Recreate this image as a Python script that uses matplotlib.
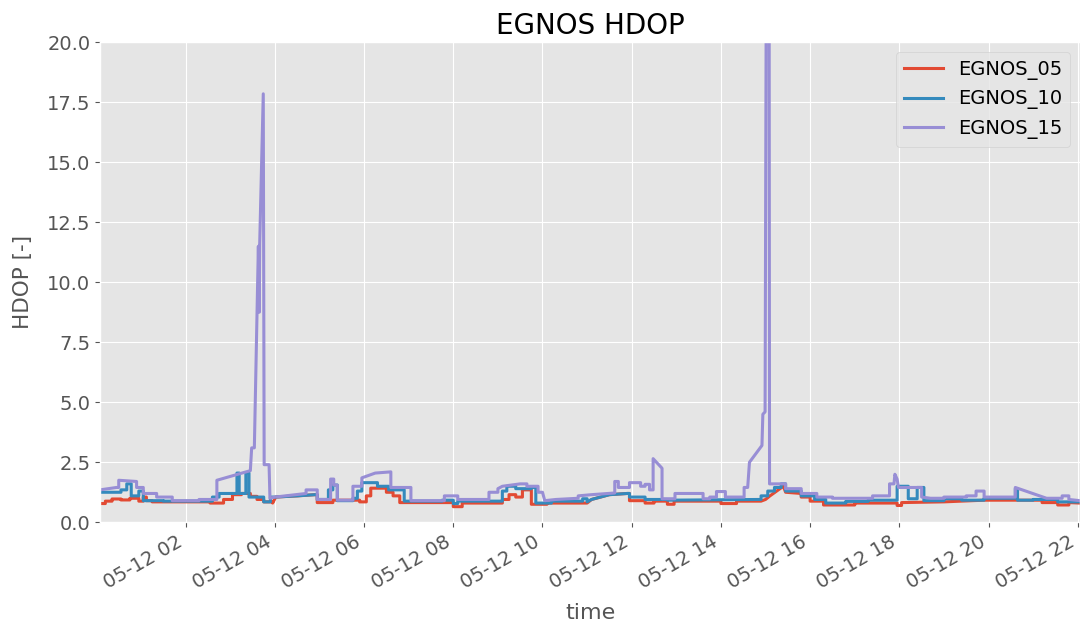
import numpy as np
import pandas as pd
import matplotlib
matplotlib.use("Agg")
import matplotlib.pyplot as plt
import matplotlib.dates as mdates
from matplotlib.ticker import MultipleLocator

plt.style.use("ggplot")

# hours after 05-12 00:00 and HDOP values (step changes given as repeated times)
t05 = [0.08, 0.20, 0.20, 0.35, 0.35, 0.55, 0.55, 0.75, 0.75, 0.95, 0.95, 1.05, 1.05, 1.12, 1.12,
       1.25, 1.25, 2.55, 2.55, 2.85, 2.85, 3.05, 3.05, 3.25, 3.25, 3.45, 3.45, 3.60, 3.60, 3.75,
       3.75, 3.95, 3.95, 4.02, 4.5, 4.9, 4.95, 4.95, 5.30, 5.30, 5.90, 5.90, 6.05, 6.05, 6.15,
       6.15, 6.50, 6.50, 6.65, 6.65, 6.80, 6.80, 8.00, 8.00, 8.20, 8.20, 9.10, 9.10, 9.25, 9.25,
       9.40, 9.40, 9.55, 9.55, 9.75, 9.75, 10.10, 10.10, 11.0, 11.1, 11.5, 11.9, 11.95, 11.95,
       12.30, 12.30, 12.50, 12.50, 12.80, 12.80, 12.95, 12.95, 14.00, 14.00, 14.35, 14.35, 14.9,
       15.0, 15.1, 15.25, 15.4, 15.45, 15.8, 15.8, 16.0, 16.0, 16.3, 16.3, 17.0, 17.0, 17.95,
       17.95, 18.05, 18.05, 19.0, 19.9, 21.2, 21.2, 21.55, 21.55, 21.8, 21.8, 22.05]
v05 = [0.78, 0.78, 0.88, 0.88, 0.97, 0.97, 0.93, 0.93, 1.00, 1.00, 0.88, 0.88, 1.05, 1.05, 0.90,
       0.90, 0.85, 0.85, 0.80, 0.80, 0.95, 0.95, 1.15, 1.15, 1.20, 1.20, 1.08, 1.08, 0.95, 0.95,
       0.85, 0.85, 0.80, 1.05, 1.10, 1.15, 1.15, 0.82, 0.82, 0.92, 0.92, 0.85, 0.85, 1.10, 1.10,
       1.42, 1.42, 1.25, 1.25, 1.10, 1.10, 0.82, 0.82, 0.65, 0.65, 0.80, 0.80, 0.95, 0.95, 1.15,
       1.15, 1.05, 1.05, 1.35, 1.35, 0.75, 0.75, 0.80, 0.80, 0.95, 1.15, 1.20, 1.20, 0.90,
       0.90, 0.80, 0.80, 0.88, 0.88, 0.75, 0.75, 0.88, 0.88, 0.78, 0.78, 0.88, 0.88,
       0.95, 1.10, 1.30, 1.50, 1.25, 1.20, 1.05, 1.05, 0.88, 0.88, 0.72, 0.72, 0.80, 0.80,
       0.70, 0.70, 0.82, 0.85, 0.92, 0.92, 0.82, 0.82, 0.72, 0.72, 0.82, 0.80]

t10 = [0.08, 0.55, 0.55, 0.68, 0.68, 0.78, 0.78, 0.95, 0.95, 1.05, 1.05, 1.50, 1.50, 2.60, 2.60,
       2.75, 2.75, 3.15, 3.15, 3.20, 3.20, 3.35, 3.35, 3.42, 3.42, 3.75, 3.75, 3.90, 3.90, 4.0,
       4.5, 4.9, 4.95, 4.95, 5.20, 5.20, 5.30, 5.30, 5.40, 5.40, 5.75, 5.75, 5.85, 5.85, 5.95,
       5.95, 6.30, 6.30, 6.55, 6.55, 6.90, 6.90, 7.75, 7.75, 8.00, 8.00, 8.10, 8.10, 9.10, 9.10,
       9.20, 9.20, 9.40, 9.40, 9.75, 9.75, 9.85, 9.85, 10.20, 10.20, 10.90, 10.90, 11.0, 11.0,
       11.1, 11.5, 11.9, 11.95, 11.95, 12.30, 12.30, 12.80, 12.80, 14.85, 14.90, 14.90, 15.05,
       15.05, 15.20, 15.20, 15.35, 15.35, 15.45, 15.45, 15.80, 15.80, 16.10, 16.10, 16.35, 16.35,
       16.80, 16.80, 17.30, 17.30, 17.95, 17.95, 18.20, 18.20, 18.40, 18.40, 18.55, 18.55, 19.00,
       19.00, 19.40, 19.40, 19.90, 19.90, 20.60, 20.60, 20.65, 20.65, 21.00, 21.00, 21.55, 21.55,
       22.05]
v10 = [1.25, 1.25, 1.35, 1.35, 1.60, 1.60, 1.10, 1.10, 1.30, 1.30, 0.90, 0.90, 0.88, 0.88, 1.05,
       1.05, 1.20, 1.20, 2.05, 2.05, 1.20, 1.20, 2.05, 2.05, 1.05, 1.05, 0.85, 0.85, 1.05, 1.05,
       1.10, 1.15, 1.15, 0.95, 0.95, 1.35, 1.35, 1.55, 1.55, 0.90, 0.90, 1.00, 1.00, 1.30, 1.30,
       1.65, 1.65, 1.50, 1.50, 1.35, 1.35, 0.88, 0.88, 0.92, 0.92, 0.78, 0.78, 0.88, 0.88, 1.30,
       1.30, 1.50, 1.50, 1.40, 1.40, 1.45, 1.45, 0.80, 0.80, 0.88, 0.88, 0.98, 0.98, 0.85,
       0.95, 1.15, 1.20, 1.20, 1.05, 1.05, 0.95, 0.95, 0.92, 0.95, 0.95, 1.10, 1.10,
       1.30, 1.30, 1.45, 1.45, 1.60, 1.60, 1.30, 1.30, 1.10, 1.10, 0.95, 0.95, 0.80,
       0.80, 0.87, 0.87, 0.92, 0.92, 1.50, 1.50, 0.98, 0.98, 1.45, 1.45, 0.90, 0.90,
       0.98, 0.98, 0.92, 0.92, 1.00, 1.00, 1.40, 1.40, 0.92, 0.92, 0.95, 0.95, 0.85,
       0.85]

t15 = [0.08, 0.45, 0.50, 0.50, 0.90, 0.90, 1.05, 1.05, 1.35, 1.35, 1.70, 1.70, 2.30, 2.30, 2.70,
       2.70, 3.45, 3.48, 3.54, 3.58, 3.63, 3.65, 3.66, 3.74, 3.76, 3.87, 3.89, 4.0, 4.7, 4.7,
       4.95, 4.95, 5.25, 5.25, 5.32, 5.32, 5.40, 5.40, 5.75, 5.75, 5.95, 5.95, 6.25, 6.60, 6.60,
       7.05, 7.05, 7.80, 7.80, 8.10, 8.10, 8.80, 8.80, 9.00, 9.00, 9.10, 9.50, 9.65, 9.65, 9.90,
       9.90, 10.00, 10.05, 10.30, 10.80, 10.80, 11.10, 11.60, 11.62, 11.62, 11.70, 11.70, 11.95,
       11.95, 12.20, 12.20, 12.30, 12.30, 12.40, 12.40, 12.48, 12.48, 12.68, 12.68, 12.97, 12.97,
       13.60, 13.60, 13.75, 13.75, 13.90, 13.90, 14.10, 14.10, 14.52, 14.52, 14.60, 14.64, 14.92,
       14.94, 14.99, 15.02, 15.08, 15.09, 15.45, 15.45, 15.80, 15.80, 16.15, 16.15, 16.50, 16.50,
       17.40, 17.40, 17.78, 17.78, 17.88, 17.90, 17.95, 17.98, 18.50, 18.50, 18.70, 19.00, 19.00,
       19.50, 19.50, 19.72, 19.72, 19.90, 19.90, 20.60, 20.60, 21.30, 21.65, 21.65, 21.80, 21.80,
       22.05]
v15 = [1.35, 1.45, 1.45, 1.75, 1.70, 1.45, 1.45, 1.20, 1.20, 1.05, 1.05, 0.90, 0.90, 0.95, 0.95,
       1.75, 2.15, 3.10, 3.10, 6.75, 11.50, 8.75, 11.60, 17.85, 2.40, 2.40, 1.00, 1.05, 1.20, 1.35,
       1.35, 0.95, 0.95, 1.80, 1.80, 1.55, 1.55, 0.92, 0.92, 1.50, 1.50, 1.85, 2.05, 2.10, 1.45,
       1.45, 0.90, 0.90, 1.10, 1.10, 0.95, 0.95, 1.25, 1.25, 1.40, 1.50, 1.60, 1.60, 1.50, 1.50,
       1.25, 1.25, 0.90, 0.95, 1.00, 1.10, 1.15, 1.22, 1.22, 1.70, 1.70, 1.45, 1.45,
       1.65, 1.65, 1.50, 1.50, 1.58, 1.58, 1.35, 1.35, 2.65, 2.25, 0.98, 0.98, 1.20,
       1.20, 0.98, 0.98, 1.05, 1.05, 1.28, 1.28, 1.05, 1.05, 1.45, 1.45, 2.50, 3.20,
       4.50, 4.60, 25.0, 25.0, 1.60, 1.60, 1.40, 1.40, 1.20, 1.20, 1.05, 1.05, 1.00,
       1.00, 1.10, 1.10, 1.60, 1.60, 2.00, 1.80, 1.45, 1.45, 1.05, 1.00, 1.00, 1.05,
       1.05, 1.10, 1.10, 1.30, 1.30, 1.05, 1.05, 1.45, 1.00, 1.00, 1.10, 1.10, 0.95,
       0.90]

labels = ["EGNOS_05", "EGNOS_10", "EGNOS_15"]

base = pd.Timestamp("2023-05-12 00:00")


def to_time(hours):
    return base + pd.to_timedelta(np.array(hours), unit="h")


fig = plt.figure(figsize=(10.8, 6.3), dpi=100)
ax = fig.add_axes([0.0926, 0.171, 0.9074, 0.762])

for t, v, lab in zip([t05, t10, t15], [v05, v10, v15], labels):
    ax.plot(to_time(t), v, label=lab, linewidth=2.2)

ax.set_xlim(to_time([t05[0]])[0], to_time([t05[-1]])[0])
ax.set_ylim(0, 20)
ax.yaxis.set_major_locator(MultipleLocator(2.5))
ax.xaxis.set_major_locator(mdates.HourLocator(interval=2))
ax.xaxis.set_major_formatter(mdates.DateFormatter("%m-%d %H"))
ax.tick_params(labelsize=14)
for lbl in ax.get_xticklabels():
    lbl.set_rotation(30)
    lbl.set_ha("right")

ax.set_title("EGNOS HDOP", fontsize=20)
ax.set_xlabel("time", fontsize=16, labelpad=8)
ax.set_ylabel("HDOP [-]", fontsize=15.5, labelpad=10)
ax.legend(loc="upper right", fontsize=14)

fig.savefig("out.png", dpi=100)
